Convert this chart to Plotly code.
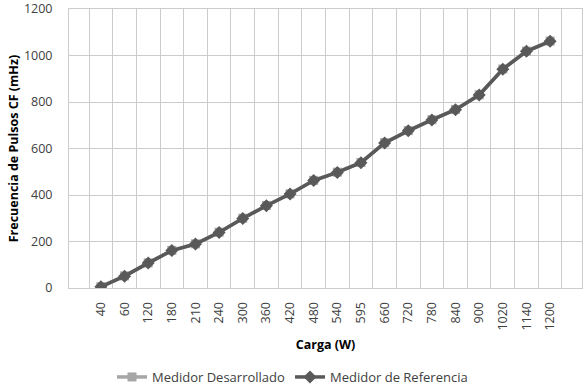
import plotly.graph_objects as go

categorias = ["40", "60", "120", "180", "210", "240", "300", "360", "420", "480",
              "540", "595", "660", "720", "780", "840", "900", "1020", "1140", "1200"]
desarrollado = [6, 52, 108, 162, 190, 240, 300, 355, 405, 463,
                498, 540, 625, 677, 724, 768, 831, 942, 1019, 1062]
referencia = [5, 51, 107, 161, 189, 239, 299, 354, 404, 462,
              497, 539, 624, 676, 723, 767, 830, 941, 1018, 1061]

FONT = "Open Sans"
TXT = "#404040"

fig = go.Figure()
fig.add_trace(go.Scatter(
    x=categorias, y=desarrollado, name="Medidor Desarrollado",
    mode="lines+markers",
    line=dict(color="#a6a6a6", width=3.5),
    marker=dict(symbol="square", size=9, color="#a6a6a6"),
))
fig.add_trace(go.Scatter(
    x=categorias, y=referencia, name="Medidor de Referencia",
    mode="lines+markers",
    line=dict(color="#595959", width=3.5),
    marker=dict(symbol="diamond", size=10, color="#595959"),
))

fig.update_layout(
    width=585, height=387,
    margin=dict(l=69, r=3, t=9, b=99),
    paper_bgcolor="white", plot_bgcolor="white",
    font=dict(family=FONT, size=12.5, color=TXT),
    showlegend=True,
    legend=dict(orientation="h", xref="container", x=0.5, xanchor="center",
                yref="container", y=1 - 377 / 387, yanchor="middle",
                font=dict(family=FONT, size=13, color=TXT),
                traceorder="normal"),
    xaxis=dict(
        type="category", tickson="boundaries", tickangle=-90,
        showgrid=True, gridcolor="#cccccc", gridwidth=1,
        ticks="", showline=True, linecolor="#cccccc", mirror=True,
        automargin=False, ticklabelstandoff=8,
        tickfont=dict(family=FONT, size=12.5, color=TXT),
        title=dict(text="<b>Carga (W)</b>", standoff=10,
                   font=dict(family=FONT, size=12.5, color="#000000")),
    ),
    yaxis=dict(
        range=[0, 1200], dtick=200,
        showgrid=True, gridcolor="#cccccc", gridwidth=1,
        ticks="", showline=True, linecolor="#cccccc", mirror=True,
        zeroline=False, automargin=False, ticklabelstandoff=13,
        ticklabeloverflow="allow",
        tickfont=dict(family=FONT, size=12.5, color=TXT),
        title=dict(text="<b>Frecuencia de Pulsos CF (mHz)</b>", standoff=2,
                   font=dict(family=FONT, size=12.5, color="#000000")),
    ),
)

fig.write_html("out.html", config={"displayModeBar": False},
               post_script="document.body.style.margin='0';")
